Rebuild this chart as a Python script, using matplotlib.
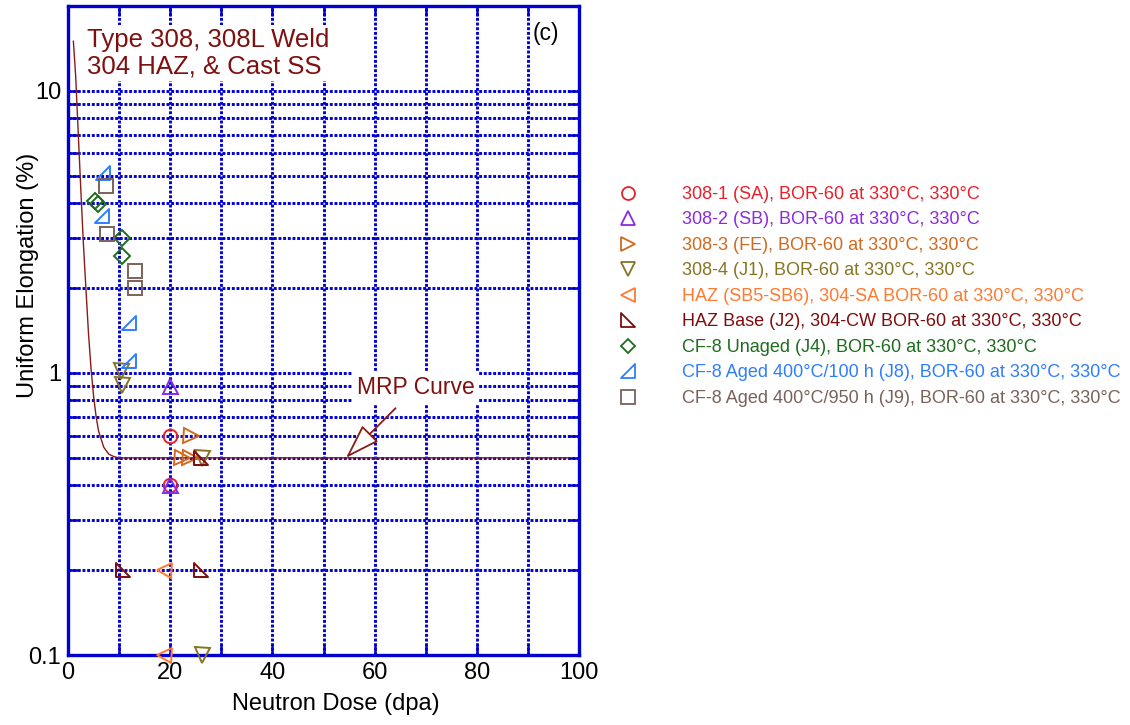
import matplotlib
matplotlib.use("Agg")
import matplotlib.pyplot as plt
from matplotlib.path import Path
from matplotlib.lines import Line2D
from matplotlib.ticker import MultipleLocator, LogLocator, NullFormatter, FixedLocator, FixedFormatter

plt.rcParams['font.family'] = ['Liberation Sans', 'DejaVu Sans']

# MRP curve
mrp_dose = [1.05, 1.5, 2.0, 2.5, 3.0, 3.5, 4.0, 4.5, 5.0, 5.5, 6.0, 7.0, 8.0, 9.0, 10.0, 98.0]
mrp_ue = [15.0, 11.3, 7.1, 4.5, 2.9, 2.0, 1.39, 1.04, 0.83, 0.70, 0.62, 0.545, 0.515, 0.505, 0.5, 0.5]

# measured data per heat
labels = [
    "308-1 (SA), BOR-60 at 330°C, 330°C",
    "308-2 (SB), BOR-60 at 330°C, 330°C",
    "308-3 (FE), BOR-60 at 330°C, 330°C",
    "308-4 (J1), BOR-60 at 330°C, 330°C",
    "HAZ (SB5-SB6), 304-SA BOR-60 at 330°C, 330°C",
    "HAZ Base (J2), 304-CW BOR-60 at 330°C, 330°C",
    "CF-8 Unaged (J4), BOR-60 at 330°C, 330°C",
    "CF-8 Aged 400°C/100 h (J8), BOR-60 at 330°C, 330°C",
    "CF-8 Aged 400°C/950 h (J9), BOR-60 at 330°C, 330°C",
]
dose_308_1 = [20.0, 20.0]
ue_308_1 = [0.6, 0.4]
dose_308_2 = [20.0, 20.0]
ue_308_2 = [0.9, 0.4]
dose_308_3 = [24.1, 22.3, 23.9]
ue_308_3 = [0.6, 0.5, 0.5]
dose_308_4 = [10.4, 10.6, 26.3, 26.2]
ue_308_4 = [1.02, 0.91, 0.5, 0.1]
dose_haz = [18.8, 18.7]
ue_haz = [0.2, 0.1]
dose_haz_base = [10.8, 26.0, 26.0]
ue_haz_base = [0.2, 0.2, 0.5]
dose_j4 = [5.3, 5.8, 10.6, 10.6]
ue_j4 = [4.08, 3.98, 3.0, 2.6]
dose_j8 = [6.8, 6.6, 12.0, 12.0]
ue_j8 = [5.1, 3.6, 1.5, 1.1]
dose_j9 = [7.5, 7.7, 13.1, 13.1]
ue_j9 = [4.6, 3.1, 2.3, 2.0]

doses = [dose_308_1, dose_308_2, dose_308_3, dose_308_4, dose_haz,
         dose_haz_base, dose_j4, dose_j8, dose_j9]
ues = [ue_308_1, ue_308_2, ue_308_3, ue_308_4, ue_haz,
       ue_haz_base, ue_j4, ue_j8, ue_j9]

colors = ['#e8202a', '#8a2be2', '#d2691e', '#857522', '#ff7a30',
          '#7f0c0c', '#1d6b1d', '#2f7dff', '#7a625a']

tri_lower_left = Path([(-1, 1), (-1, -1), (1, -1), (-1, 1)], closed=True)
tri_lower_right = Path([(-1, -1), (1, -1), (1, 1), (-1, -1)], closed=True)
markers = ['o', '^', '>', 'v', '<', tri_lower_left, 'D', tri_lower_right, 's']
sizes = [9.8, 10.8, 10.8, 10.8, 10.8, 10.6, 7.8, 10.6, 10.4]

blue = '#0000d0'

fig = plt.figure(figsize=(11.3, 7.25), dpi=100)
ax = fig.add_axes([68 / 1130, 1 - 655 / 725, 511 / 1130, 649 / 725])

ax.plot(mrp_dose, mrp_ue, color='#8b1a1a', lw=1.0, zorder=3)

handles = []
for d, u, c, m, s in zip(doses, ues, colors, markers, sizes):
    ax.plot(d, u, ls='none', marker=m, ms=s, mfc='none', mec=c, mew=1.4,
            clip_on=False, zorder=4)
    handles.append(Line2D([], [], ls='none', marker=m, ms=s * 0.95, mfc='none',
                          mec=c, mew=1.3))

ax.set_yscale('log')
ax.set_xlim(0, 100)
ax.set_ylim(0.1, 20)

ax.xaxis.set_major_locator(MultipleLocator(20))
ax.xaxis.set_minor_locator(MultipleLocator(10))
ax.yaxis.set_major_locator(FixedLocator([0.1, 1, 10]))
ax.yaxis.set_major_formatter(FixedFormatter(['0.1', '1', '10']))
ax.yaxis.set_minor_locator(LogLocator(base=10, subs=range(2, 10)))
ax.yaxis.set_minor_formatter(NullFormatter())

ax.grid(True, which='both', color=blue, linestyle=(0, (1.0, 0.6)), lw=2.1)
ax.set_axisbelow(True)
for sp in ax.spines.values():
    sp.set_color(blue)
    sp.set_linewidth(2.4)
ax.tick_params(which='both', direction='in', top=True, right=True,
               color=blue, width=1.8, length=7, labelsize=17, pad=5)

ax.set_xlabel("Neutron Dose (dpa)", fontsize=17)
ax.set_ylabel("Uniform Elongation (%)", fontsize=17)
ax.xaxis.set_label_coords(0.525, -0.058)
ax.yaxis.set_label_coords(-0.057, 0.585)

ax.text(0.037, 0.966, "Type 308, 308L Weld\n304 HAZ, & Cast SS",
        transform=ax.transAxes, ha='left', va='top', fontsize=18.5,
        color='#7f1010', linespacing=1.12,
        bbox=dict(fc='white', ec='none', pad=2))
ax.text(0.935, 0.958, "(c)", transform=ax.transAxes, ha='center',
        va='center', fontsize=16.5, color='black')

# MRP curve label with open arrow head
ax.annotate("", xy=(54.4, 0.5), xytext=(64.1, 0.75),
            arrowprops=dict(arrowstyle='-|>,head_length=1.1,head_width=0.36',
                            mutation_scale=20, color='#8b1a1a', fc='white',
                            lw=1.3, shrinkA=0, shrinkB=0), zorder=5)
ax.text(68.1, 0.885, "MRP Curve", ha='center', va='center', fontsize=16.5,
        color='#7f1010', bbox=dict(fc='white', ec='none', pad=3), zorder=5)

leg = ax.legend(handles, labels, loc='upper left',
                bbox_to_anchor=(610 / 1130, 1 - 186 / 725),
                bbox_transform=fig.transFigure, frameon=False, fontsize=13,
                handlelength=2.0, handletextpad=2.0, labelspacing=0.47,
                borderpad=0, borderaxespad=0)
for t, c in zip(leg.get_texts(), colors):
    t.set_color(c)

fig.savefig("out.png", dpi=100)
